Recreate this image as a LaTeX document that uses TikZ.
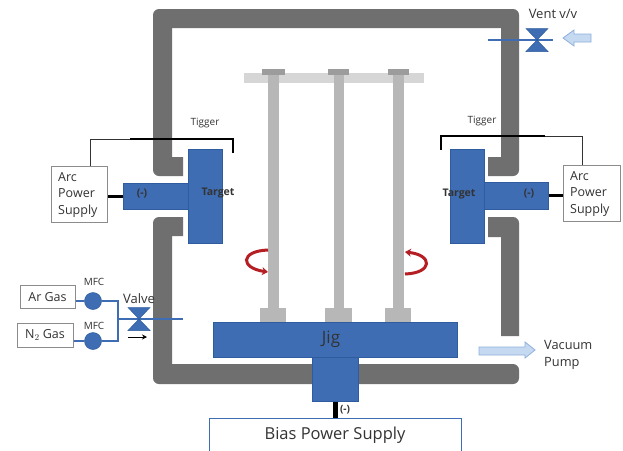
\documentclass[tikz,border=0pt]{standalone}
\usepackage{fontspec}
\setmainfont{Open Sans}
\usetikzlibrary{arrows.meta,calc}
\definecolor{wallc}{HTML}{6F6F6F}
\definecolor{blu}{HTML}{3F6DB3}
\definecolor{blud}{HTML}{2F5C9E}
\definecolor{rodc}{HTML}{B7B7B7}
\definecolor{barc}{HTML}{D6D6D6}
\definecolor{txt}{HTML}{333333}
\definecolor{boxl}{HTML}{8C8C8C}
\definecolor{arrowf}{HTML}{C5D9F1}
\definecolor{arrowd}{HTML}{8FB0DC}
\definecolor{redc}{HTML}{B51F24}
\tikzset{
  x=1pt,y=-1pt,
  wh/.style 2 args={minimum width=#1pt,minimum height=#2pt},
  lab/.style={text=txt,inner sep=0pt,align=left,font=\fontsize{#1}{#1}\selectfont},
  lab/.default=11,
  blab/.style={text=txt,inner sep=0pt,font=\fontsize{#1}{#1}\selectfont\bfseries},
  wall/.style={fill=wallc,draw=none},
  block/.style={fill=blu,draw=blud,line width=.5pt,inner sep=0pt,anchor=north west,text=txt},
  whitebox/.style={fill=white,draw=boxl,line width=1pt,inner sep=0pt,anchor=north west,text=txt,align=left},
  thin wire/.style={draw=txt,line width=.8pt},
  thick wire/.style={draw=black,line width=2.6pt},
  pipe/.style={draw=blu,line width=1.5pt},
  mfc/.style={circle,fill=blu,draw=blud,line width=.5pt,minimum size=17pt,inner sep=0pt},
  valvetri/.style={fill=blu,draw=blud,line width=.5pt,line join=miter},
  hollow/.style={fill=arrowf,draw=arrowd,line width=.8pt},
  spin/.style={draw=redc,line width=3pt,-{Stealth[length=6pt,width=8pt]}},
}
\newcommand{\valveat}[1]{%
  \draw[valvetri] ($(#1)+(-11,-11.5)$) -- ($(#1)+(11,-11.5)$) -- (#1) -- cycle;
  \draw[valvetri] ($(#1)+(-11,11.5)$) -- ($(#1)+(11,11.5)$) -- (#1) -- cycle;}
\begin{document}
\begin{tikzpicture}
\useasboundingbox (0,0) rectangle (623,450);
\fill[white] (0,0) rectangle (623,450);

% chamber walls: inner corners square, outer corners rounded
\fill[wall] (183,157) -- (172,157) -- (172,28) -- (501,28) -- (501,157) -- (488,157) -- (488,176)
  [rounded corners=6pt] -- (519,176) -- (519,9) -- (153,9) -- (153,176) [sharp corners] -- (183,176) -- cycle;
\fill[wall] (183,217) [rounded corners=6pt] -- (153,217) -- (153,384) -- (519,384) -- (519,364) [sharp corners] -- (172,364) -- (172,236) -- (183,236) -- cycle;
\fill[wall] (488,217) [rounded corners=6pt] -- (519,217) [sharp corners] -- (519,336) -- (501,336) -- (501,237) -- (488,237) -- cycle;

% rods and jig
\fill[barc] (244,73) rectangle (424,83);
\foreach \a/\b/\c/\d/\e/\f in {268/279/262/285/260/286,334/344/328/349/325/352,393/404/388/409/385/411}{
  \fill[rodc] (\a,72) rectangle (\b,312);
  \fill[rodc!85!black] (\c,69) rectangle (\d,75);
  \fill[rodc] (\e,308) rectangle (\f,325);
}
\node[block,wh={244}{35}] (jig) at (213,322) {};
\node[lab=17] (jigtext) at (331,339) {Jig};
\node[block,wh={46}{44}] (biasstem) at (312,357) {};
\node[whitebox,draw=blu,wh={252}{40}] (bias) at (209,418) {};
\node[lab=16.5] (biastext) at (335,435) {Bias Power Supply};
\draw[thick wire,line width=4.5pt] (biasstem.south) -- (biasstem.south |- bias.north);
\node[blab=10] (biasminus) at (345,410) {(-)};

% left target
\node[block,wh={65}{26}] (stemL) at (123,183) {};
\node[block,wh={34}{94}] (targetL) at (188,149) {};
\node[whitebox,wh={56}{56}] (arcL) at (51,166) {};
\node[lab=12.5,anchor=west] (arcLtext) at (58,195) {Arc\\[3.8pt]Power\\[3.8pt]Supply};
\draw[thick wire,line width=3.4pt] (stemL.west) -- (stemL.west -| arcL.east);
\node[blab=10.5] (minusL) at (142,194) {(-)};
\node[blab=10.5] (targetLtext) at (218,193) {Target};
\coordinate (trigL) at (130,139);
\coordinate (tipL) at (233,153);
\draw[thin wire] (arcL.north -| 90,166) -- (90,139) -- (trigL);
\draw[thick wire,line width=2.4pt] (trigL) -- (tipL |- trigL) -- (tipL);
\node[lab=10] (trigtextL) at (205,123) {Tigger};

% right target
\node[block,wh={64}{27}] (stemR) at (484,182) {};
\node[block,wh={34}{94}] (targetR) at (450,149) {};
\node[whitebox,wh={57}{56}] (arcR) at (563,165) {};
\node[lab=12.5,anchor=west] (arcRtext) at (570,194) {Arc\\[3.8pt]Power\\[3.8pt]Supply};
\draw[thick wire,line width=3.4pt] (stemR.east) -- (stemR.east -| arcR.west);
\node[blab=10.5] (minusR) at (529,194) {(-)};
\node[blab=10.5] (targetRtext) at (459,194) {Target};
\coordinate (trigR) at (545,136);
\coordinate (tipR) at (441,150);
\draw[thin wire] (arcR.north -| 582,165) -- (582,136) -- (trigR);
\draw[thick wire,line width=2.4pt] (trigR) -- (tipR |- trigR) -- (tipR);
\node[lab=10] (trigtextR) at (482,121) {Tigger};

% gas feed
\node[whitebox,wh={55}{23}] (ar) at (20,285) {};
\node[lab=12.5] (artext) at (47.5,297) {Ar Gas};
\node[whitebox,wh={56}{24}] (n2) at (17,323) {};
\node[lab=12.5] (n2text) at (45,335) {N$_{2}$ Gas};
\node[mfc] (mfcA) at (93,301) {};
\node[mfc] (mfcN) at (93,341) {};
\node[lab=10] (mfctextA) at (94,282) {MFC};
\node[lab=10] (mfctextN) at (94,326) {MFC};
\coordinate (join) at (118,319);
\coordinate (valveG) at (139,319);
\coordinate (gasEnd) at (183,319);
\draw[pipe] (ar.east |- mfcA) -- (mfcA);
\draw[pipe] (n2.east |- mfcN) -- (mfcN);
\draw[pipe] (mfcA) -- (join |- mfcA) -- (join |- mfcN) -- (mfcN);
\draw[pipe] (join) -- (gasEnd);
\valveat{valveG}
\node[lab=13] (valvetext) at (139,299) {Valve};
\coordinate (flowA) at (128,337);
\coordinate (flowB) at (147,337);
\draw[draw=black,line width=1pt,-{Stealth[length=5pt,width=5pt]}] (flowA) -- (flowB);

% vent
\coordinate (ventA) at (488,40);
\coordinate (ventB) at (553,40);
\coordinate (valveV) at (537,40);
\draw[pipe] (ventA) -- (ventB);
\valveat{valveV}
\node[lab=13] (venttext) at (553,14) {Vent v/v};
\draw[hollow,line join=miter] (591,34) -- (574,34) -- (574,30) -- (563,38) -- (574,46) -- (574,42) -- (591,42) -- cycle;

% vacuum
\draw[hollow,line join=miter] (479,347) -- (525,347) -- (525,342) -- (535,350) -- (525,358) -- (525,355) -- (479,355) -- cycle;
\node[lab=12.8,anchor=west] (vactext) at (544,355) {Vacuum\\[4pt]Pump};

% rotation arrows
\coordinate (spinLa) at (268,250);
\coordinate (spinLb) at (268,272);
\coordinate (spinRa) at (405,274);
\coordinate (spinRb) at (405,252);
\draw[spin] (spinLa) .. controls (240,251) and (240,268) .. (spinLb);
\draw[spin] (spinRa) .. controls (433,273) and (433,255) .. (spinRb);
\end{tikzpicture}
\end{document}
